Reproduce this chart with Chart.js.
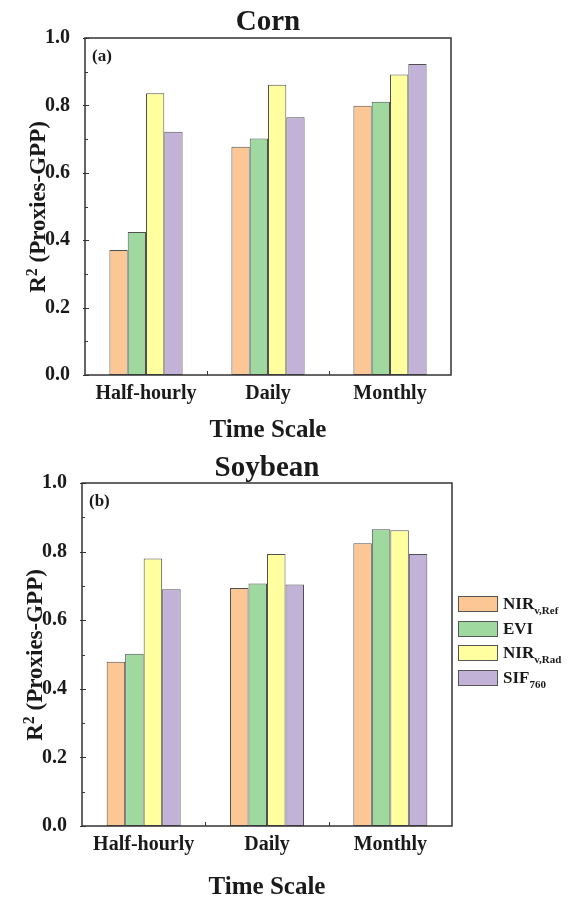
<!DOCTYPE html>
<html>
<head>
<meta charset="utf-8">
<script src="https://cdn.jsdelivr.net/npm/chart.js@4.4.1/dist/chart.umd.min.js"></script>
<style>
  html,body{margin:0;padding:0;background:#fff;}
  #wrap{position:relative;width:572px;height:897px;overflow:hidden;font-family:'Liberation Serif','Times New Roman',serif;}
  .cv{position:absolute;left:0;width:572px;}
  .ytitle{position:absolute;font-weight:bold;font-size:23px;color:#1a1a1a;white-space:nowrap;transform:translate(-50%,-50%) rotate(-90deg);line-height:1;}
  .ytitle sup{font-size:16px;vertical-align:0;position:relative;top:-8px;}
  #legend{position:absolute;left:458px;top:592px;}
  .li{display:flex;align-items:center;height:24.5px;}
  .sw{width:38px;height:14px;border:1px solid #555;margin-right:5px;}
  .lt{font-weight:bold;font-size:17px;color:#1a1a1a;}
  .lt sub{font-size:11px;vertical-align:0;position:relative;top:5px;}
</style>
</head>
<body>
<div id="wrap">
  <div class="cv" style="top:0;height:440px;"><canvas id="c1"></canvas></div>
  <div class="cv" style="top:440px;height:457px;"><canvas id="c2"></canvas></div>
  <div class="ytitle" style="left:37px;top:207px;">R<sup>2</sup> (Proxies-GPP)</div>
  <div class="ytitle" style="left:34px;top:655px;">R<sup>2</sup> (Proxies-GPP)</div>
  <div id="legend"></div>
</div>
<script>
// ---- data ----
const categories = ['Half-hourly', 'Daily', 'Monthly'];
const seriesNames = ['NIRv,Ref', 'EVI', 'NIRv,Rad', 'SIF760'];
const seriesMain = ['NIR', 'EVI', 'NIR', 'SIF'];
const seriesSub = ['v,Ref', '', 'v,Rad', '760'];
const seriesColors = ['#FCC794', '#9FD99F', '#FFFFA0', '#C2B2D8'];

const cornNIRvRef = [0.371, 0.677, 0.799];
const cornEVI     = [0.424, 0.702, 0.811];
const cornNIRvRad = [0.836, 0.861, 0.892];
const cornSIF760  = [0.722, 0.765, 0.923];

const soyNIRvRef = [0.479, 0.694, 0.824];
const soyEVI     = [0.502, 0.707, 0.865];
const soyNIRvRad = [0.780, 0.793, 0.862];
const soySIF760  = [0.690, 0.704, 0.793];

const yTicks = [0.0, 0.2, 0.4, 0.6, 0.8, 1.0];

const FONT = "'Liberation Serif','Times New Roman',serif";
const DARK = '#1a1a1a';

function datasets(values) {
  return values.map((v, i) => ({
    label: seriesNames[i],
    data: v,
    backgroundColor: seriesColors[i],
    borderColor: '#505050',
    borderWidth: 1,
    borderSkipped: false,
    categoryPercentage: 0.6,
    barPercentage: 1.0
  }));
}

const frameTicks = {
  id: 'frameTicks',
  afterDraw(chart, args, opts) {
    const {ctx, chartArea: a, scales: {x, y}} = chart;
    ctx.save();
    ctx.strokeStyle = '#333333';
    ctx.lineWidth = 1.5;
    ctx.strokeRect(a.left, a.top, a.right - a.left, a.bottom - a.top);
    ctx.lineWidth = 1;
    const line = (x1, y1, x2, y2) => { ctx.beginPath(); ctx.moveTo(x1, y1); ctx.lineTo(x2, y2); ctx.stroke(); };
    const t = y.ticks;
    t.forEach((tk, i) => {
      const py = Math.round(y.getPixelForValue(tk.value)) + 0.5;
      line(a.left - 2, py, a.left + 4, py);
      if (i < t.length - 1) {
        const pm = Math.round(y.getPixelForValue((tk.value + t[i + 1].value) / 2)) + 0.5;
        line(a.left, pm, a.left + 3, pm);
      }
    });
    for (let i = 1; i < x.ticks.length; i++) {
      const px = Math.round((x.getPixelForTick(i - 1) + x.getPixelForTick(i)) / 2) + 0.5;
      line(px, a.bottom, px, a.bottom - 4);
    }
    // panel label
    ctx.fillStyle = DARK;
    ctx.font = 'bold 17px ' + FONT;
    ctx.textBaseline = 'middle';
    ctx.textAlign = 'left';
    ctx.fillText(opts.label, a.left + 7, a.top + 19);
    ctx.restore();
  }
};

function makeChart(id, title, values, panel, cfg) {
  return new Chart(document.getElementById(id), {
    type: 'bar',
    data: { labels: categories, datasets: datasets(values) },
    options: {
      responsive: true,
      maintainAspectRatio: false,
      animation: false,
      layout: { padding: { left: 0, right: cfg.right, top: 0, bottom: 0 } },
      plugins: {
        legend: { display: false },
        tooltip: { enabled: false },
        title: {
          display: true, text: title, fullSize: false, color: DARK,
          font: { family: FONT, size: 29, weight: 'bold', lineHeight: 1.0 },
          padding: { top: cfg.titleTop, bottom: cfg.titleBottom }
        },
        frameTicks: { label: panel }
      },
      scales: {
        x: {
          grid: { display: false, drawTicks: false },
          border: { display: false },
          ticks: { color: DARK, font: { family: FONT, size: 20, weight: 'bold' }, padding: 7, maxRotation: 0 },
          title: { display: true, text: 'Time Scale', color: DARK, font: { family: FONT, size: 25, weight: 'bold', lineHeight: 0.75 }, padding: { top: 0, bottom: 0 } },
          afterFit(s) { s.height = cfg.xh; }
        },
        y: {
          min: 0, max: 1.0,
          afterBuildTicks(s) { s.ticks = yTicks.map(v => ({ value: v })); },
          grid: { display: false },
          border: { display: false },
          ticks: { color: DARK, font: { family: FONT, size: 20, weight: 'bold' }, padding: 7, callback: v => Number(v).toFixed(1) },
          afterFit(s) { s.width = cfg.yw; }
        }
      }
    },
    plugins: [frameTicks]
  });
}

makeChart('c1', 'Corn', [cornNIRvRef, cornEVI, cornNIRvRad, cornSIF760], '(a)',
  { right: 121, titleTop: 8, titleBottom: 1, xh: 65, yw: 85 });
makeChart('c2', 'Soybean', [soyNIRvRef, soyEVI, soyNIRvRad, soySIF760], '(b)',
  { right: 120, titleTop: 14, titleBottom: 0, xh: 71, yw: 82 });

// ---- legend ----
const lg = document.getElementById('legend');
seriesNames.forEach((n, i) => {
  const d = document.createElement('div');
  d.className = 'li';
  d.innerHTML = '<div class="sw" style="background:' + seriesColors[i] + '"></div><div class="lt">' +
    seriesMain[i] + (seriesSub[i] ? '<sub>' + seriesSub[i] + '</sub>' : '') + '</div>';
  lg.appendChild(d);
});
</script>
</body>
</html>
